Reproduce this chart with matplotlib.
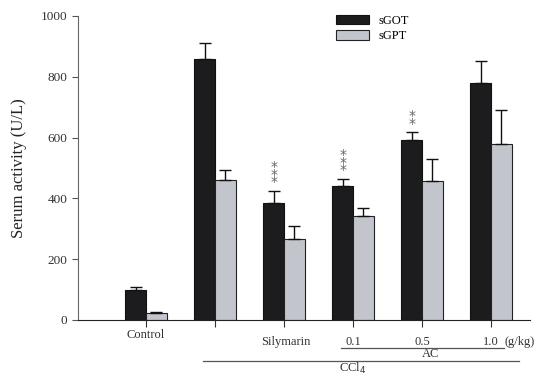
import numpy as np
import matplotlib
matplotlib.use("Agg")
import matplotlib.pyplot as plt

groups = ["Control", "CCl4", "Silymarin", "0.1", "0.5", "1.0"]
sgot = [100, 860, 385, 440, 592, 778]
sgot_err = [8, 52, 40, 25, 26, 74]
sgpt = [22, 462, 268, 342, 458, 580]
sgpt_err = [3, 30, 40, 28, 72, 112]
stars = [0, 0, 3, 3, 2, 0]

plt.rcParams['font.family'] = ['Liberation Serif', 'DejaVu Serif']

fig = plt.figure(figsize=(5.46, 3.76), dpi=100)
ax = fig.add_axes([78 / 546, 56 / 376, 452 / 546, 304 / 376])

x = np.arange(len(groups))
w = 0.30
dark = '#1c1c1e'
light = '#c3c5cc'

ax.bar(x - w / 2, sgot, w, color=dark, edgecolor='#111111', linewidth=0.8, label='sGOT')
ax.bar(x + w / 2, sgpt, w, color=light, edgecolor='#222222', linewidth=0.8, label='sGPT')
ax.errorbar(x - w / 2, sgot, yerr=[np.zeros(len(x)), sgot_err], fmt='none',
            ecolor='#111111', elinewidth=1, capsize=4, capthick=1)
ax.errorbar(x + w / 2, sgpt, yerr=[np.zeros(len(x)), sgpt_err], fmt='none',
            ecolor='#111111', elinewidth=1, capsize=4, capthick=1)

# significance marks above sGOT bars, stacked in one text
for i, n in enumerate(stars):
    if n:
        top = sgot[i] + sgot_err[i]
        ax.annotate("\n".join('*' * n), (x[i] - w / 2, top), xytext=(0, 1),
                    textcoords='offset points', ha='center', va='bottom', fontsize=10,
                    color='#666666', family='DejaVu Sans', linespacing=0.42)

ax.set_xlim(-0.986, 5.565)
ax.set_ylim(0, 1000)
ax.set_yticks([0, 200, 400, 600, 800, 1000])
ax.set_xticks(x)
ax.set_xticklabels([])
ax.tick_params(axis='y', labelsize=9.5, length=4, color='#555555', labelcolor='#333333')
ax.tick_params(axis='x', length=5, color='#333333')
ax.set_ylabel('Serum activity (U/L)', fontsize=12, color='#222222', labelpad=10)
for sp in ['top', 'right']:
    ax.spines[sp].set_visible(False)
ax.spines['left'].set_color('#666666')
ax.spines['bottom'].set_color('#222222')

tr = ax.get_xaxis_transform()
txt = dict(transform=tr, ha='center', va='center', fontsize=9, color='#333333', clip_on=False)
ax.text(x[0], -0.05, 'Control', **txt)
ax.text(x[2] + 0.03, -0.072, 'Silymarin', **txt)
for i in [3, 4, 5]:
    ax.text(x[i], -0.072, groups[i], **txt)
ax.text(x[5] + 0.2, -0.072, '(g/kg)', transform=tr, ha='left', va='center',
        fontsize=9, color='#333333')
ax.plot([2.82, 5.19], [-0.093, -0.093], transform=tr, color='#555555', lw=0.9, clip_on=False)
ax.text(4.12, -0.113, 'AC', **txt)
ax.plot([0.83, 5.4], [-0.136, -0.136], transform=tr, color='#555555', lw=0.9, clip_on=False)
ax.text(3.0, -0.16, 'CCl$_4$', **txt)

ax.legend(loc='upper left', bbox_to_anchor=(0.56, 1.02), frameon=False, fontsize=9,
          handlelength=2.6, handleheight=0.8, labelspacing=0.25, borderaxespad=0)

fig.savefig('out.png', dpi=100)
